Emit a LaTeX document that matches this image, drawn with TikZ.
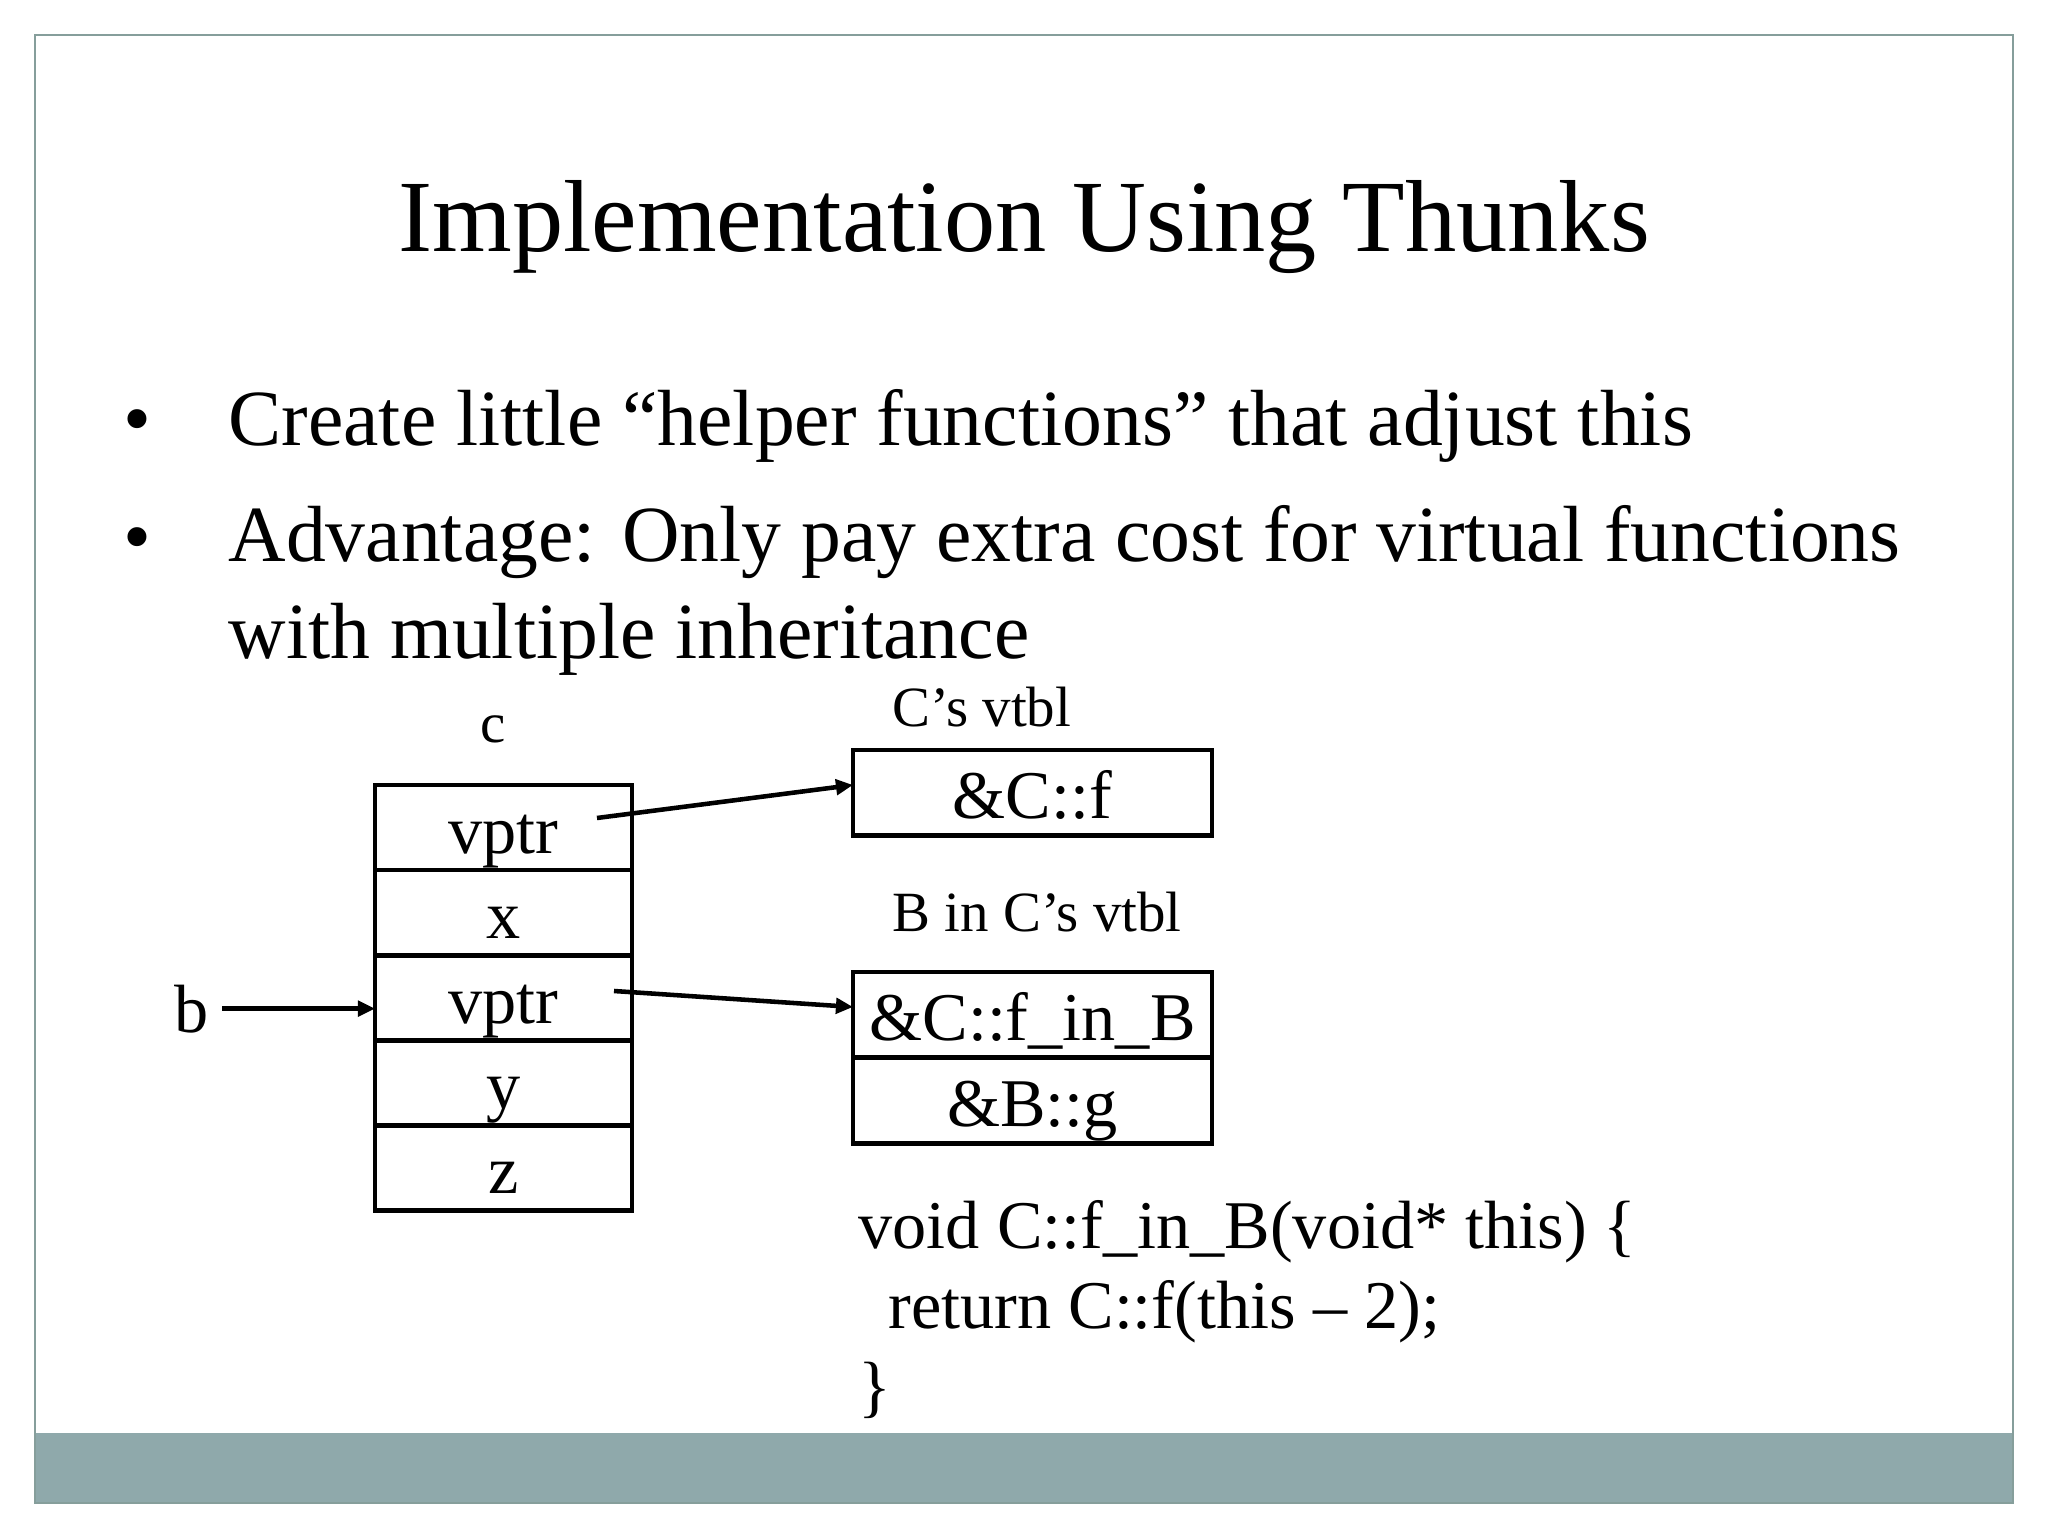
\documentclass[tikz,border=0pt]{standalone}
\usepackage{fontspec}
\setmainfont{Liberation Serif}
\usepackage{tikz}
\usetikzlibrary{positioning,arrows.meta}

\definecolor{framegray}{HTML}{869E9B}
\definecolor{bandgray}{HTML}{8FA9AB}

\tikzset{
  cell/.style={draw, line width=1.7pt, outer sep=0pt, minimum width=90.35pt, minimum height=29.9pt,
    text height=18pt, text depth=0pt, font=\fontsize{24}{28.8}\selectfont},
  slot/.style={cell, minimum width=126.2pt, minimum height=30.2pt},
  lbl/.style={inner sep=0pt, font=\fontsize{20}{24}\selectfont},
  bullet/.style={inner sep=0pt, font=\fontsize{28}{34.2}\selectfont},
  ptr/.style={-{Triangle[length=6pt,width=5.4pt]}, line width=1.6pt}
}

\begin{document}
\begin{tikzpicture}[x=0.3515625pt, y=-0.3515625pt]
    \useasboundingbox (0,0) rectangle (2048,1536);
    \fill[bandgray] (35,1433) rectangle (2013,1503);
    \draw[framegray, line width=1pt] (35,35) rectangle (2013,1503);

    \node[anchor=base, inner sep=0pt, font=\fontsize{36}{43.2}\selectfont] (title) at (1024,252) {Implementation Using Thunks};

    \node[bullet, anchor=base] (dot1) at (137,446) {•};
    \node[bullet, anchor=base west] (item1) at (228,446) {Create little “helper functions” that adjust this};
    \node[bullet, anchor=base] (dot2) at (137,564) {•};
    \node[bullet, anchor=base west, align=left] (item2) at (228,659) {Advantage: Only pay extra cost for virtual functions\\with multiple inheritance};

    % object c
    \node[cell, anchor=north west] (v1) at (375,785) {vptr};
    \node[cell, below=0pt of v1] (x) {x};
    \node[cell, below=0pt of x] (v2) {vptr};
    \node[cell, below=0pt of v2] (y) {y};
    \node[cell, below=0pt of y] (z) {z};
    \node[lbl, anchor=base] (cname) at (493,743) {c};
    \node[lbl, anchor=base, inner sep=4.5pt, font=\fontsize{24}{28.8}\selectfont] (bname) at (192,1032) {b};

    % vtbls
    \node[lbl, anchor=base west] (cvt) at (892,727) {C’s vtbl};
    \node[slot, anchor=north west] (cf) at (853,750) {\&C::f};
    \node[lbl, anchor=base west] (bvt) at (892,931) {B in C’s vtbl};
    \node[slot, anchor=north west] (fB) at (853,972) {\&C::f\_in\_B};
    \node[slot, below=0pt of fB] (Bg) {\&B::g};

    \node[anchor=base west, align=left, inner sep=0pt, font=\fontsize{24}{28.2}\selectfont] (thunk) at (858,1409)
      {void C::f\_in\_B(void* this) \{\\\hspace*{10.5pt}return C::f(this -- 2);\\\}};

    \coordinate (p1) at (597,818);
    \coordinate (p2) at (614,991);
    \draw[ptr] (p1) -- ([yshift=2.8pt]cf.west);
    \draw[ptr] (p2) -- ([yshift=2.8pt]fB.west);
    \draw[ptr] (bname.east) -- (bname.east -| v2.west);
\end{tikzpicture}
\end{document}
